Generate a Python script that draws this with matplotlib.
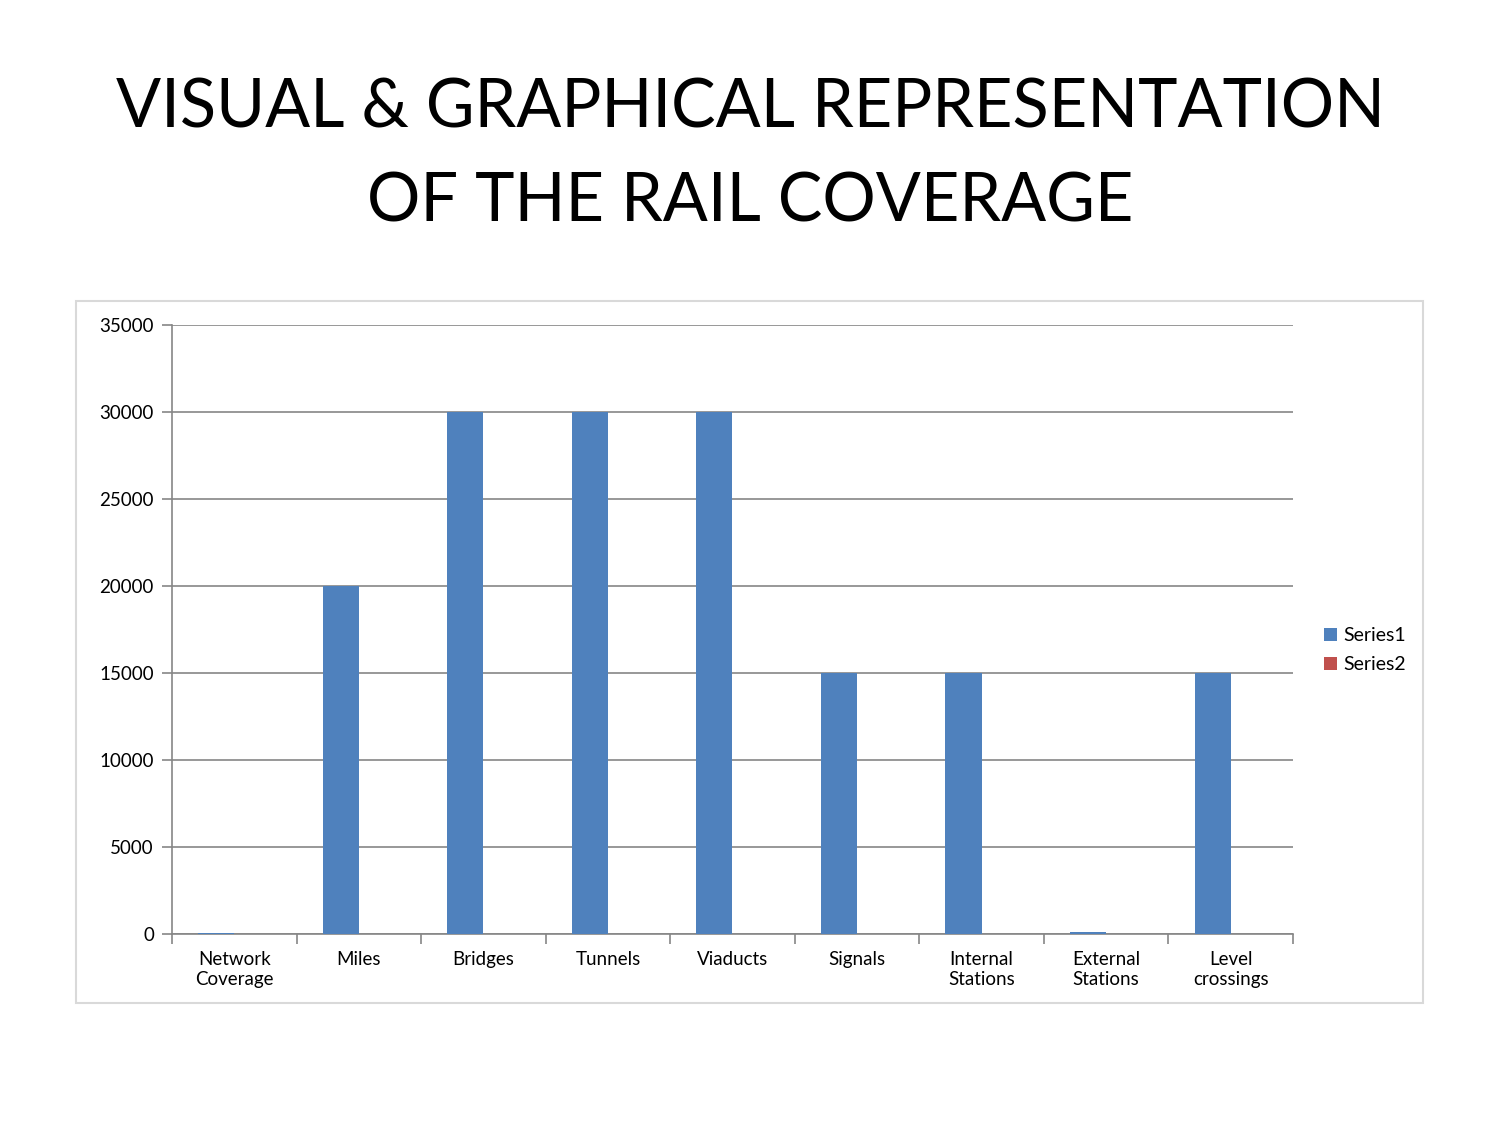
import numpy as np
import matplotlib.pyplot as plt
from matplotlib.patches import Rectangle

categories = ["Network\nCoverage", "Miles", "Bridges", "Tunnels", "Viaducts",
              "Signals", "Internal\nStations", "External\nStations", "Level\ncrossings"]
series1 = [30, 20000, 30000, 30000, 30000, 15000, 15000, 100, 15000]
series2 = [0, 0, 0, 0, 0, 0, 0, 0, 0]
yticks = [0, 5000, 10000, 15000, 20000, 25000, 30000, 35000]

plt.rcParams['font.family'] = ['Lato', 'DejaVu Sans']

fig = plt.figure(figsize=(15, 11.25), dpi=100)

# light frame round the chart area
fig.patches.append(Rectangle((76 / 1500, 1 - 1003 / 1125), (1423 - 76) / 1500, (1003 - 301) / 1125,
                             transform=fig.transFigure, fill=False, edgecolor="#d9d9d9", linewidth=1.5))

fig.text(0.5, 1 - 109 / 1125, "VISUAL & GRAPHICAL REPRESENTATION", ha="center", va="center", fontsize=48)
fig.text(0.5, 1 - 203 / 1125, "OF THE RAIL COVERAGE", ha="center", va="center", fontsize=48)

ax = fig.add_axes([172 / 1500, 1 - 934 / 1125, (1293 - 172) / 1500, (934 - 325) / 1125])

x = np.arange(len(categories))
w = 0.29
ax.bar(x - w / 2, series1, width=w, color="#4f81bd", label="Series1", zorder=3)
ax.bar(x + w / 2, series2, width=w, color="#c0504d", label="Series2", zorder=3)

ax.set_xlim(-0.5, len(categories) - 0.5)
ax.set_ylim(0, 35000)
ax.set_yticks(yticks)
ax.set_yticklabels([str(v) for v in yticks], fontsize=13.5)
ax.yaxis.grid(True, color="#868686", linewidth=1.2, zorder=0)

ax.set_xticks(x)
ax.set_xticklabels(categories, fontsize=13.5, linespacing=1.25)
ax.tick_params(axis="x", length=0, pad=12)
ax.set_xticks(np.arange(len(categories) + 1) - 0.5, minor=True)
ax.tick_params(axis="x", which="minor", length=7, color="#868686", width=1.2)
ax.tick_params(axis="y", length=7, color="#868686", width=1.2, pad=6)

for s in ["top", "right"]:
    ax.spines[s].set_visible(False)
for s in ["left", "bottom"]:
    ax.spines[s].set_color("#868686")
    ax.spines[s].set_linewidth(1.2)

ax.legend(loc="center left", bbox_to_anchor=(1.012, 0.466), frameon=False, fontsize=14,
          handlelength=0.65, handleheight=0.65, handletextpad=0.35, labelspacing=0.6)

fig.savefig("out.png", dpi=100)
